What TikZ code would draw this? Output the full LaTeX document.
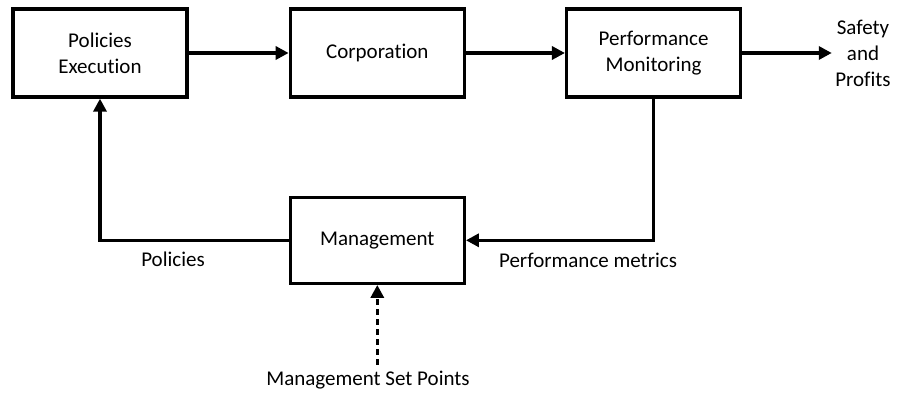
\documentclass[tikz,border=0pt]{standalone}
\usepackage{fontspec}
\setmainfont[Ligatures=NoCommon]{Carlito}
\usepackage{tikz}
\usetikzlibrary{positioning,arrows.meta}

\begin{document}
\begin{tikzpicture}[x=1pt, y=1pt, node distance=100pt,
  every node/.style = {font=\fontsize{21}{26}\selectfont, align=center},
  block/.style = {shape=rectangle, draw, line width=3.3pt,
    minimum width=174pt, minimum height=88pt, inner sep=2pt},
  flow/.style = {line width=3.3pt, -{Triangle[length=13pt,width=13pt]}}]
  \useasboundingbox (0,0) rectangle (904,393);
  \node[block] (execution) at (100,340) {Policies \\ Execution};
  \node[block, right=100pt of execution] (corporation) {Corporation};
  \node[block, right=99pt of corporation] (monitoring) {Performance \\ Monitoring};
  \node[block, minimum height=86pt, below=97pt of corporation] (management) {Management};
  \node (output) at (863,340) {Safety \\ and \\ Profits};
  \node (policies) at (173,134) {Policies};
  \node (metrics) at (588,133) {Performance metrics};
  \node (setpoints) at (368,13) {Management Set Points};
  \coordinate[below=80pt of management.south] (setin);
  % forward path
  \draw[flow] (execution) -- (corporation);
  \draw[flow] (corporation) -- (monitoring);
  \draw[flow] (monitoring) -- (output.west);
  % feedback loop
  \draw[flow] (monitoring.south) |- (management.east);
  \draw[flow] (management.west) -| (execution.south);
  \draw[flow, dash pattern=on 6pt off 4pt] (setin) -- (management.south);
\end{tikzpicture}
\end{document}
